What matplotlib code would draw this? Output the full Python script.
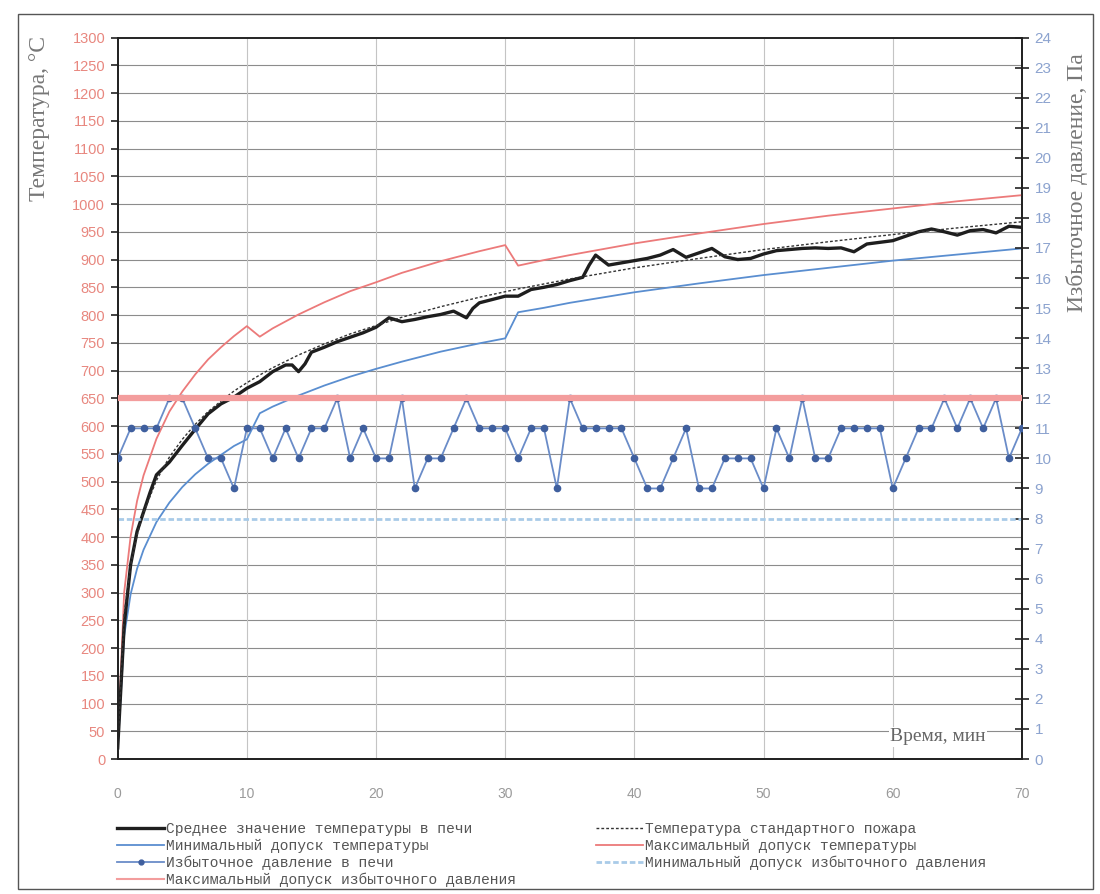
import numpy as np
import matplotlib.pyplot as plt
import matplotlib.patches as patches

# time, min
std_t = [0, 0.5, 1, 1.5, 2, 3, 4, 5, 6, 7, 8, 9, 10, 11, 12, 14, 16, 18, 20, 22, 25, 28, 30,
         31, 33, 35, 40, 45, 50, 55, 60, 65, 70]
# standard fire temperature
std_T = [20, 261, 349, 404, 444, 502, 544, 576, 603, 626, 645, 663, 678, 692, 705, 728, 748, 766,
         781, 796, 815, 832, 842, 847, 856, 865, 885, 902, 918, 932, 945, 957, 968]
# max / min temperature tolerance
max_T = [23, 300, 401, 465, 511, 577, 626, 662, 693, 720, 742, 762, 780, 761, 776, 801, 823, 843,
         859, 876, 897, 915, 926, 889, 899, 908, 929, 947, 964, 979, 992, 1005, 1016]
min_T = [17, 222, 297, 343, 377, 427, 462, 490, 513, 532, 548, 564, 576, 623, 635, 655, 673, 689,
         703, 716, 734, 749, 758, 805, 813, 822, 841, 857, 872, 885, 898, 909, 920]

# mean furnace temperature
mean_t = [0, 0.5, 1, 1.5, 2, 2.5, 3, 4, 5, 6, 7, 8, 9, 10, 11, 12, 13, 13.5, 14, 14.5, 15, 16, 17,
          18, 19, 20, 21, 22, 23, 24, 25, 26, 27, 27.5, 28, 29, 30, 31, 32, 33, 34, 35, 36, 36.5,
          37, 38, 39, 40, 41, 42, 43, 44, 45, 46, 47, 48, 49, 50, 51, 52, 53, 54, 55, 56, 57, 58,
          59, 60, 61, 62, 63, 64, 65, 66, 67, 68, 69, 70]
mean_T = [20, 240, 350, 410, 445, 480, 512, 535, 565, 594, 622, 640, 652, 668, 680, 698, 710, 710,
          698, 712, 733, 742, 752, 760, 768, 778, 795, 788, 792, 797, 801, 807, 795, 812, 822, 828,
          834, 834, 846, 850, 855, 862, 868, 890, 908, 890, 894, 898, 902, 908, 918, 904, 912, 920,
          905, 900, 902, 910, 916, 918, 920, 921, 920, 921, 914, 928, 931, 934, 942, 950, 955, 950,
          944, 952, 954, 948, 960, 958]

# furnace overpressure, Pa (every minute)
press_t = list(range(0, 71))
press = [10, 11, 11, 11, 12, 12, 11, 10, 10, 9, 11, 11, 10, 11, 10, 11, 11, 12, 10, 11,
         10, 10, 12, 9, 10, 10, 11, 12, 11, 11, 11, 10, 11, 11, 9, 12, 11, 11, 11, 11,
         10, 9, 9, 10, 11, 9, 9, 10, 10, 10, 9, 11, 10, 12, 10, 10, 11, 11, 11, 11,
         9, 10, 11, 11, 12, 11, 12, 11, 12, 10, 11]
p_max = 12
p_min = 8

fig = plt.figure(figsize=(11, 8.94), dpi=100)
ax = fig.add_axes([0.107, 0.151, 0.822, 0.807])
ax2 = ax.twinx()

# outer frame of the chart area
fig.patches.append(patches.Rectangle((0.016, 0.006), 0.978, 0.978, transform=fig.transFigure,
                                     fill=False, edgecolor='#555555', linewidth=1.0))

ax.set_xlim(0, 70)
ax.set_ylim(0, 1300)
ax.set_xticks(range(0, 71, 10))
ax.set_yticks(range(0, 1301, 50))
for y in range(50, 1300, 50):
    ax.axhline(y, color='#8c8c8c', lw=0.8, zorder=0)
for x in range(10, 70, 10):
    ax.axvline(x, color='#c4c4c4', lw=0.8, zorder=0)

l_mean, = ax.plot(mean_t, mean_T, color='#1e1e1e', lw=2.4, zorder=4)
l_min, = ax.plot(std_t, min_T, color='#5a8ed0', lw=1.3, zorder=3)
l_std, = ax.plot(std_t, std_T, color='#333333', lw=1.0, ls=(0, (2, 1.5)), zorder=5)
l_max, = ax.plot(std_t, max_T, color='#ec7a7a', lw=1.3, zorder=3)

ax2.set_ylim(0, 24)
ax2.set_yticks(range(0, 25))
l_pmin = ax2.axhline(p_min, color='#a9cbe8', lw=2.0, ls=(0, (2, 1)), zorder=2)
l_p, = ax2.plot(press_t, press, color='#6a8cc8', lw=1.3, marker='o', ms=4.5,
                mfc='#3f5f9e', mec='#3f5f9e', zorder=3)
l_pmax = ax2.axhline(p_max, color='#f39d9d', lw=4.5, zorder=4)

for a in (ax, ax2):
    for s in a.spines.values():
        s.set_color('#222222')
        s.set_linewidth(1.3)
ax.spines['top'].set_color('#666666')

ax.tick_params(axis='y', direction='out', length=5, width=1.2, colors='#222222',
               labelcolor='#e8877f', labelsize=10.5, pad=4)
ax.tick_params(axis='x', direction='out', length=0, labelcolor='#9a9a9a', labelsize=10, pad=20)
ax2.tick_params(axis='y', direction='inout', length=10, width=1.2, colors='#222222',
                labelcolor='#8ca3cf', labelsize=11, pad=4)
for lab in ax.get_yticklabels() + ax2.get_yticklabels() + ax.get_xticklabels():
    lab.set_family('Liberation Sans')

fig.text(0.036, 0.96, 'Температура, °С', rotation=90, ha='center', va='top',
         family='Liberation Serif', fontsize=17, color='#777777')
fig.text(0.979, 0.94, 'Избыточное давление, Па', rotation=90, ha='center', va='top',
         family='Liberation Serif', fontsize=17, color='#777777')
ax.text(63.5, 40, 'Время, мин', family='Liberation Serif', fontsize=14, color='#666666',
        ha='center', va='center', bbox=dict(facecolor='white', edgecolor='none', pad=1), zorder=7)

handles = [l_mean, l_min, l_p, l_pmax, l_std, l_max, l_pmin]
labels = ['Среднее значение температуры в печи',
          'Минимальный допуск температуры',
          'Избыточное давление в печи',
          'Максимальный допуск избыточного давления',
          'Температура стандартного пожара',
          'Максимальный допуск температуры',
          'Минимальный допуск избыточного давления']
leg = fig.legend(handles, labels, loc='upper left', bbox_to_anchor=(0.100, 0.089), ncol=2,
                 frameon=False, borderpad=0, handlelength=3.2, handletextpad=0.15,
                 columnspacing=5.5, labelspacing=0.2,
                 prop={'family': 'Liberation Mono', 'size': 10.5})
for t in leg.get_texts():
    t.set_color('#555555')
leg.legend_handles[3].set_linewidth(1.5)
leg.legend_handles[2].set_markersize(3.5)

fig.savefig('out.png', dpi=100)
